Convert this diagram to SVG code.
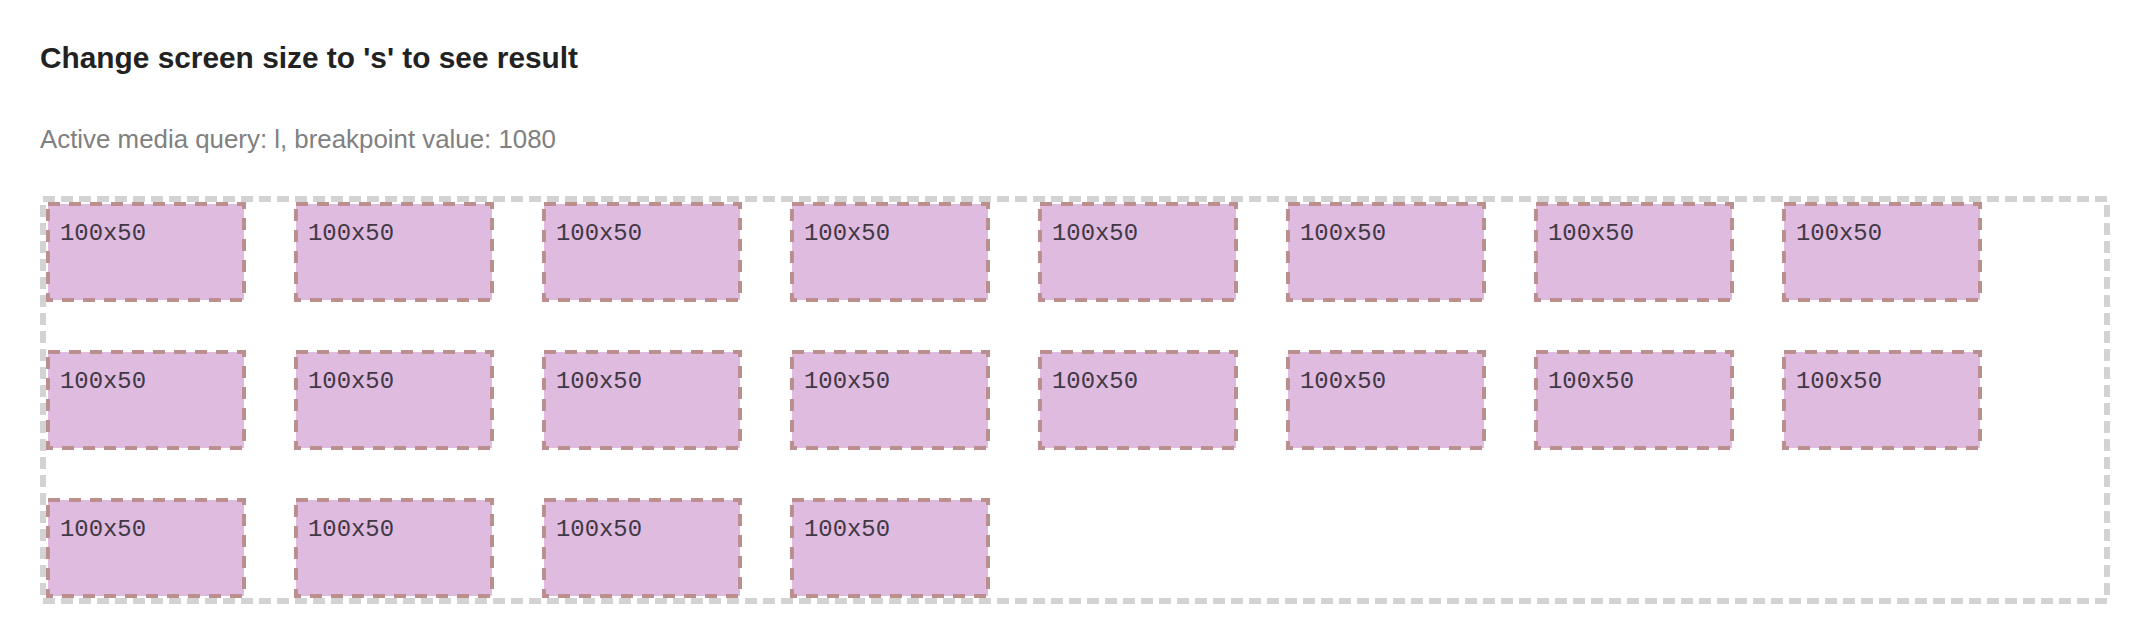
<svg xmlns="http://www.w3.org/2000/svg" width="2138" height="644" viewBox="0 0 2138 644">
<style>
.title{font-family:"Liberation Sans",Arial,sans-serif;font-weight:bold;font-size:29.5px;fill:#222}
.sub{font-family:"Liberation Sans",Arial,sans-serif;font-size:25.8px;fill:#808080}
.box{fill:#dfbbdf;stroke:#bc8f8f;stroke-width:4;stroke-dasharray:12 9}
.lbl{font-family:"Liberation Mono","DejaVu Sans Mono",monospace;font-size:23.5px;fill:#403844}
.outer{fill:none;stroke:#d3d3d3;stroke-width:6;stroke-dasharray:12 6}
</style>
<rect width="2138" height="644" fill="#fff"/>
<text class="title" x="40" y="68.3" textLength="538" lengthAdjust="spacingAndGlyphs">Change screen size to 's' to see result</text>
<text class="sub" x="40" y="148.3" textLength="516" lengthAdjust="spacingAndGlyphs">Active media query: l, breakpoint value: 1080</text>
<g id="container"><rect class="outer" x="43" y="199" width="2064" height="402"/></g>
<g id="r1c1"><rect class="box" x="48" y="204" width="196" height="96"/><text class="lbl" x="60" y="239.5" textLength="86" lengthAdjust="spacingAndGlyphs">100x50</text></g>
<g id="r1c2"><rect class="box" x="296" y="204" width="196" height="96"/><text class="lbl" x="308" y="239.5" textLength="86" lengthAdjust="spacingAndGlyphs">100x50</text></g>
<g id="r1c3"><rect class="box" x="544" y="204" width="196" height="96"/><text class="lbl" x="556" y="239.5" textLength="86" lengthAdjust="spacingAndGlyphs">100x50</text></g>
<g id="r1c4"><rect class="box" x="792" y="204" width="196" height="96"/><text class="lbl" x="804" y="239.5" textLength="86" lengthAdjust="spacingAndGlyphs">100x50</text></g>
<g id="r1c5"><rect class="box" x="1040" y="204" width="196" height="96"/><text class="lbl" x="1052" y="239.5" textLength="86" lengthAdjust="spacingAndGlyphs">100x50</text></g>
<g id="r1c6"><rect class="box" x="1288" y="204" width="196" height="96"/><text class="lbl" x="1300" y="239.5" textLength="86" lengthAdjust="spacingAndGlyphs">100x50</text></g>
<g id="r1c7"><rect class="box" x="1536" y="204" width="196" height="96"/><text class="lbl" x="1548" y="239.5" textLength="86" lengthAdjust="spacingAndGlyphs">100x50</text></g>
<g id="r1c8"><rect class="box" x="1784" y="204" width="196" height="96"/><text class="lbl" x="1796" y="239.5" textLength="86" lengthAdjust="spacingAndGlyphs">100x50</text></g>
<g id="r2c1"><rect class="box" x="48" y="352" width="196" height="96"/><text class="lbl" x="60" y="387.5" textLength="86" lengthAdjust="spacingAndGlyphs">100x50</text></g>
<g id="r2c2"><rect class="box" x="296" y="352" width="196" height="96"/><text class="lbl" x="308" y="387.5" textLength="86" lengthAdjust="spacingAndGlyphs">100x50</text></g>
<g id="r2c3"><rect class="box" x="544" y="352" width="196" height="96"/><text class="lbl" x="556" y="387.5" textLength="86" lengthAdjust="spacingAndGlyphs">100x50</text></g>
<g id="r2c4"><rect class="box" x="792" y="352" width="196" height="96"/><text class="lbl" x="804" y="387.5" textLength="86" lengthAdjust="spacingAndGlyphs">100x50</text></g>
<g id="r2c5"><rect class="box" x="1040" y="352" width="196" height="96"/><text class="lbl" x="1052" y="387.5" textLength="86" lengthAdjust="spacingAndGlyphs">100x50</text></g>
<g id="r2c6"><rect class="box" x="1288" y="352" width="196" height="96"/><text class="lbl" x="1300" y="387.5" textLength="86" lengthAdjust="spacingAndGlyphs">100x50</text></g>
<g id="r2c7"><rect class="box" x="1536" y="352" width="196" height="96"/><text class="lbl" x="1548" y="387.5" textLength="86" lengthAdjust="spacingAndGlyphs">100x50</text></g>
<g id="r2c8"><rect class="box" x="1784" y="352" width="196" height="96"/><text class="lbl" x="1796" y="387.5" textLength="86" lengthAdjust="spacingAndGlyphs">100x50</text></g>
<g id="r3c1"><rect class="box" x="48" y="500" width="196" height="96"/><text class="lbl" x="60" y="535.5" textLength="86" lengthAdjust="spacingAndGlyphs">100x50</text></g>
<g id="r3c2"><rect class="box" x="296" y="500" width="196" height="96"/><text class="lbl" x="308" y="535.5" textLength="86" lengthAdjust="spacingAndGlyphs">100x50</text></g>
<g id="r3c3"><rect class="box" x="544" y="500" width="196" height="96"/><text class="lbl" x="556" y="535.5" textLength="86" lengthAdjust="spacingAndGlyphs">100x50</text></g>
<g id="r3c4"><rect class="box" x="792" y="500" width="196" height="96"/><text class="lbl" x="804" y="535.5" textLength="86" lengthAdjust="spacingAndGlyphs">100x50</text></g>
<g id="connectors"></g>
</svg>
